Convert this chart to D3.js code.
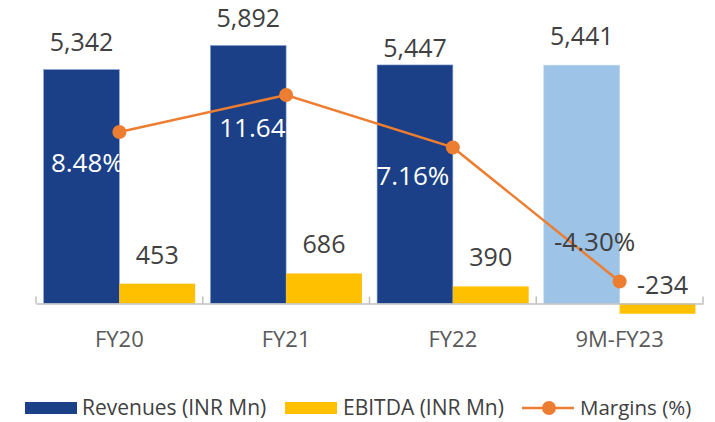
<!DOCTYPE html>
<html>
<head>
<meta charset="utf-8">
<script src="https://cdn.jsdelivr.net/npm/d3@7"></script>
<style>
  html, body { margin: 0; padding: 0; background: #fff; }
  svg { display: block; font-family: "Open Sans", "Liberation Sans", sans-serif; }
</style>
</head>
<body>
<svg id="chart" width="715" height="422"></svg>
<script>
// ---- data ----
const categories = ["FY20", "FY21", "FY22", "9M-FY23"];
const revenues = [5342, 5892, 5447, 5441];
const ebitda = [453, 686, 390, -234];
const margins = [8.48, 11.64, 7.16, -4.30];
const revenueLabels = ["5,342", "5,892", "5,447", "5,441"];
const ebitdaLabels = ["453", "686", "390", "-234"];
const marginLabels = ["8.48%", "11.64%", "7.16%", "-4.30%"];
const legendLabels = ["Revenues (INR Mn)", "EBITDA (INR Mn)", "Margins (%)"];

// ---- layout / style (not data) ----
const colors = { rev: "#1B4088", revLast: "#9DC3E6", ebitda: "#FFC000", margin: "#ED7D31", text: "#404040", axisText: "#595959", axis: "#BFBFBF" };
const revLabelDy = [-19, -18, -8, -20];
const marginLabelOffset = [[-32, 40], [-23, 42], [-40, 38], [-25, -31]];
const marginLabelFill = ["#fff", "#fff", "#fff", "#404040"];

const svg = d3.select("#chart");

const x = d3.scaleBand().domain(categories).range([36, 703]).paddingInner(0).paddingOuter(0);
const xs = d3.scaleBand().domain(["rev", "ebitda"]).range([0, x.bandwidth()]).paddingInner(0).paddingOuter(0.1);
const y = d3.scaleLinear().domain([0, 6000]).range([303.5, 40.7]);
const y2 = d3.scaleLinear().domain([-5, 15]).range([289.7, 55.7]);

const g = svg.append("g");

// Revenue bars
g.selectAll("rect.rev").data(categories).join("rect")
  .attr("class", "rev")
  .attr("x", d => x(d) + xs("rev"))
  .attr("width", xs.bandwidth())
  .attr("y", (d, i) => y(revenues[i]))
  .attr("height", (d, i) => y(0) - y(revenues[i]))
  .attr("fill", (d, i) => i === categories.length - 1 ? colors.revLast : colors.rev)
  .attr("stroke", (d, i) => i === categories.length - 1 ? "#b9d3ee" : "#8EA9DB")
  .attr("stroke-width", 0.6);

// EBITDA bars
g.selectAll("rect.eb").data(categories).join("rect")
  .attr("class", "eb")
  .attr("x", d => x(d) + xs("ebitda"))
  .attr("width", xs.bandwidth())
  .attr("y", (d, i) => Math.min(y(ebitda[i]), y(0)))
  .attr("height", (d, i) => Math.abs(y(0) - y(ebitda[i])))
  .attr("fill", colors.ebitda);

// Axis
const axis = d3.axisBottom(x).tickSize(0).tickPadding(0).tickFormat("");
const axG = g.append("g").attr("transform", `translate(0,${y(0)})`).call(axis);
axG.select(".domain").attr("stroke", colors.axis).attr("stroke-width", 1.5);
const bounds = categories.map(c => x(c)).concat([x(categories[categories.length - 1]) + x.bandwidth()]);
axG.selectAll("line.sep").data(bounds).join("line")
  .attr("class", "sep")
  .attr("x1", d => d).attr("x2", d => d)
  .attr("y1", 0).attr("y2", -7)
  .attr("stroke", colors.axis).attr("stroke-width", 1.5);

// Category labels
g.selectAll("text.cat").data(categories).join("text")
  .attr("class", "cat")
  .attr("x", d => x(d) + x.bandwidth() / 2)
  .attr("y", 347)
  .attr("text-anchor", "middle")
  .attr("font-size", 22)
  .attr("fill", colors.axisText)
  .text(d => d);

// Revenue labels
g.selectAll("text.revl").data(categories).join("text")
  .attr("class", "revl")
  .attr("x", d => x(d) + xs("rev") + xs.bandwidth() / 2)
  .attr("y", (d, i) => y(revenues[i]) + revLabelDy[i])
  .attr("text-anchor", "middle")
  .attr("font-size", 25)
  .attr("fill", colors.text)
  .text((d, i) => revenueLabels[i]);

// EBITDA labels
g.selectAll("text.ebl").data(categories).join("text")
  .attr("class", "ebl")
  .attr("x", (d, i) => x(d) + xs("ebitda") + xs.bandwidth() / 2 + (ebitda[i] < 0 ? 5 : 0))
  .attr("y", (d, i) => Math.min(y(ebitda[i]), y(0)) - (ebitda[i] < 0 ? 10 : 20))
  .attr("text-anchor", "middle")
  .attr("font-size", 25)
  .attr("fill", colors.text)
  .text((d, i) => ebitdaLabels[i]);

// Margin line
const px = d => x(d) + x.bandwidth() / 2;
const line = d3.line().x((d, i) => px(categories[i])).y(d => y2(d));
g.append("path").datum(margins)
  .attr("d", line)
  .attr("fill", "none")
  .attr("stroke", colors.margin)
  .attr("stroke-width", 2.5);
g.selectAll("circle.m").data(margins).join("circle")
  .attr("class", "m")
  .attr("cx", (d, i) => px(categories[i]))
  .attr("cy", d => y2(d))
  .attr("r", 7)
  .attr("fill", colors.margin);

// Margin labels
g.selectAll("text.ml").data(margins).join("text")
  .attr("class", "ml")
  .attr("x", (d, i) => px(categories[i]) + marginLabelOffset[i][0])
  .attr("y", (d, i) => y2(d) + marginLabelOffset[i][1])
  .attr("text-anchor", "middle")
  .attr("font-size", 26)
  .attr("fill", (d, i) => marginLabelFill[i])
  .text((d, i) => marginLabels[i]);

// Legend
const leg = svg.append("g").attr("font-size", 21).attr("fill", colors.text);
leg.append("rect").attr("x", 25).attr("y", 402).attr("width", 52).attr("height", 12).attr("fill", colors.rev);
leg.append("text").attr("x", 82).attr("y", 415).attr("fill", colors.text).text(legendLabels[0]);
leg.append("rect").attr("x", 285).attr("y", 402).attr("width", 52).attr("height", 12).attr("fill", colors.ebitda);
leg.append("text").attr("x", 343).attr("y", 415).attr("fill", colors.text).text(legendLabels[1]);
leg.append("line").attr("x1", 522).attr("x2", 574).attr("y1", 408).attr("y2", 408).attr("stroke", colors.margin).attr("stroke-width", 2.5);
leg.append("circle").attr("cx", 549).attr("cy", 408).attr("r", 7).attr("fill", colors.margin);
leg.append("text").attr("x", 580).attr("y", 415).attr("fill", colors.text).attr("font-size", 20.5).text(legendLabels[2]);
</script>
</body>
</html>
